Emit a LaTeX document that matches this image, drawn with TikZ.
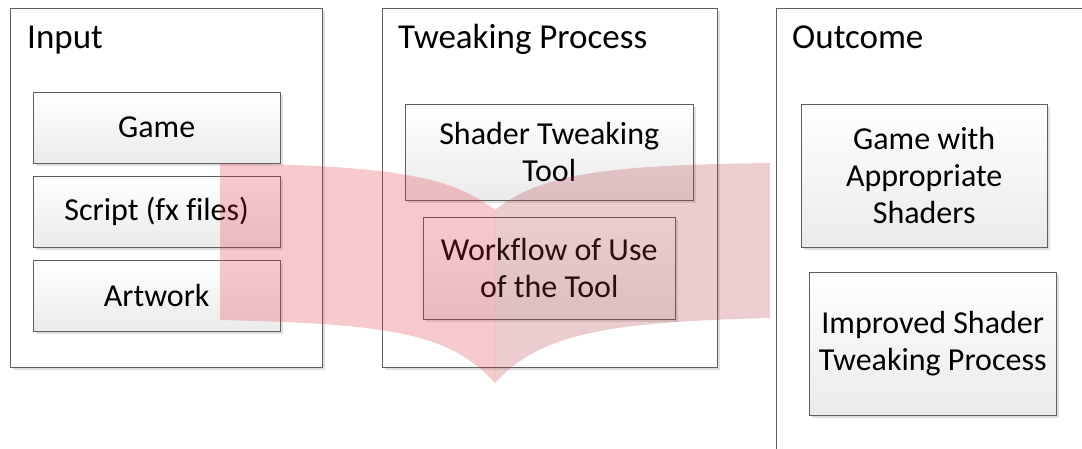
\documentclass[tikz,border=0pt]{standalone}
\usepackage{fontspec}
\setmainfont{Carlito}[Ligatures=NoCommon]
\usepackage{tikz}
\usetikzlibrary{shadows}
\definecolor{edgegray}{RGB}{95,95,95}
\definecolor{flowleft}{RGB}{223,47,55}
\definecolor{flowright}{RGB}{179,55,67}
\tikzstyle{panel} = [draw=edgegray, fill=white, anchor=north west, inner sep=0pt, drop shadow={shadow xshift=3pt, shadow yshift=-3pt, opacity=0.12, fill=black}]
\tikzstyle{item} = [draw=edgegray, top color=white, bottom color=black!8, anchor=north west, align=center, inner sep=0pt, font=\fontsize{32}{37}\selectfont, drop shadow={shadow xshift=3pt, shadow yshift=-3pt, opacity=0.12, fill=black}]
\tikzstyle{heading} = [anchor=base west, inner sep=0pt, font=\fontsize{35}{40}\selectfont]
\tikzstyle{flow} = [fill opacity=0.25]

\begin{document}
\begin{tikzpicture}[x=1pt, y=-1pt]
        \useasboundingbox (0,0) rectangle (1082,448);
        \node[panel, minimum width=312, minimum height=359] (inpanel) at (10,8) {};
        \node[panel, minimum width=335, minimum height=359] (tweakpanel) at (382,8) {};
        \node[panel, minimum width=320, minimum height=460] (outpanel) at (776,8) {};
        \node[heading] (inhead) at (27,48) {Input};
        \node[heading] (tweakhead) at (398,48) {Tweaking Process};
        \node[heading] (outhead) at (792,48) {Outcome};
        \node[item, minimum width=247, minimum height=71] (game) at (33,92) {Game};
        \node[item, minimum width=247, minimum height=71] (script) at (33,176) {Script (fx files)};
        \node[item, minimum width=247, minimum height=71] (artwork) at (33,260) {Artwork};
        \node[item, minimum width=288, minimum height=96] (shadertool) at (405,104) {Shader Tweaking\\Tool};
        \node[item, minimum width=252, minimum height=102] (workflow) at (423,217) {Workflow of Use\\of the Tool};
        \node[item, minimum width=246, minimum height=143] (gameshaders) at (801,104) {Game with\\Appropriate\\Shaders};
        \node[item, minimum width=247, minimum height=143] (improved) at (809,272) {Improved Shader\\Tweaking Process};
        % the two halves of the big arrow, drawn over the boxes
        \fill[flow, flowleft] (220,163) -- (220,320) .. controls (395,324) and (450,334) .. (495,383) -- (495,210) .. controls (450,176) and (395,166) .. cycle;
        \fill[flow, flowright] (770,163) -- (770,318) .. controls (605,322) and (540,334) .. (495,383) -- (495,210) .. controls (540,174) and (605,165) .. cycle;
    \end{tikzpicture}
\end{document}
